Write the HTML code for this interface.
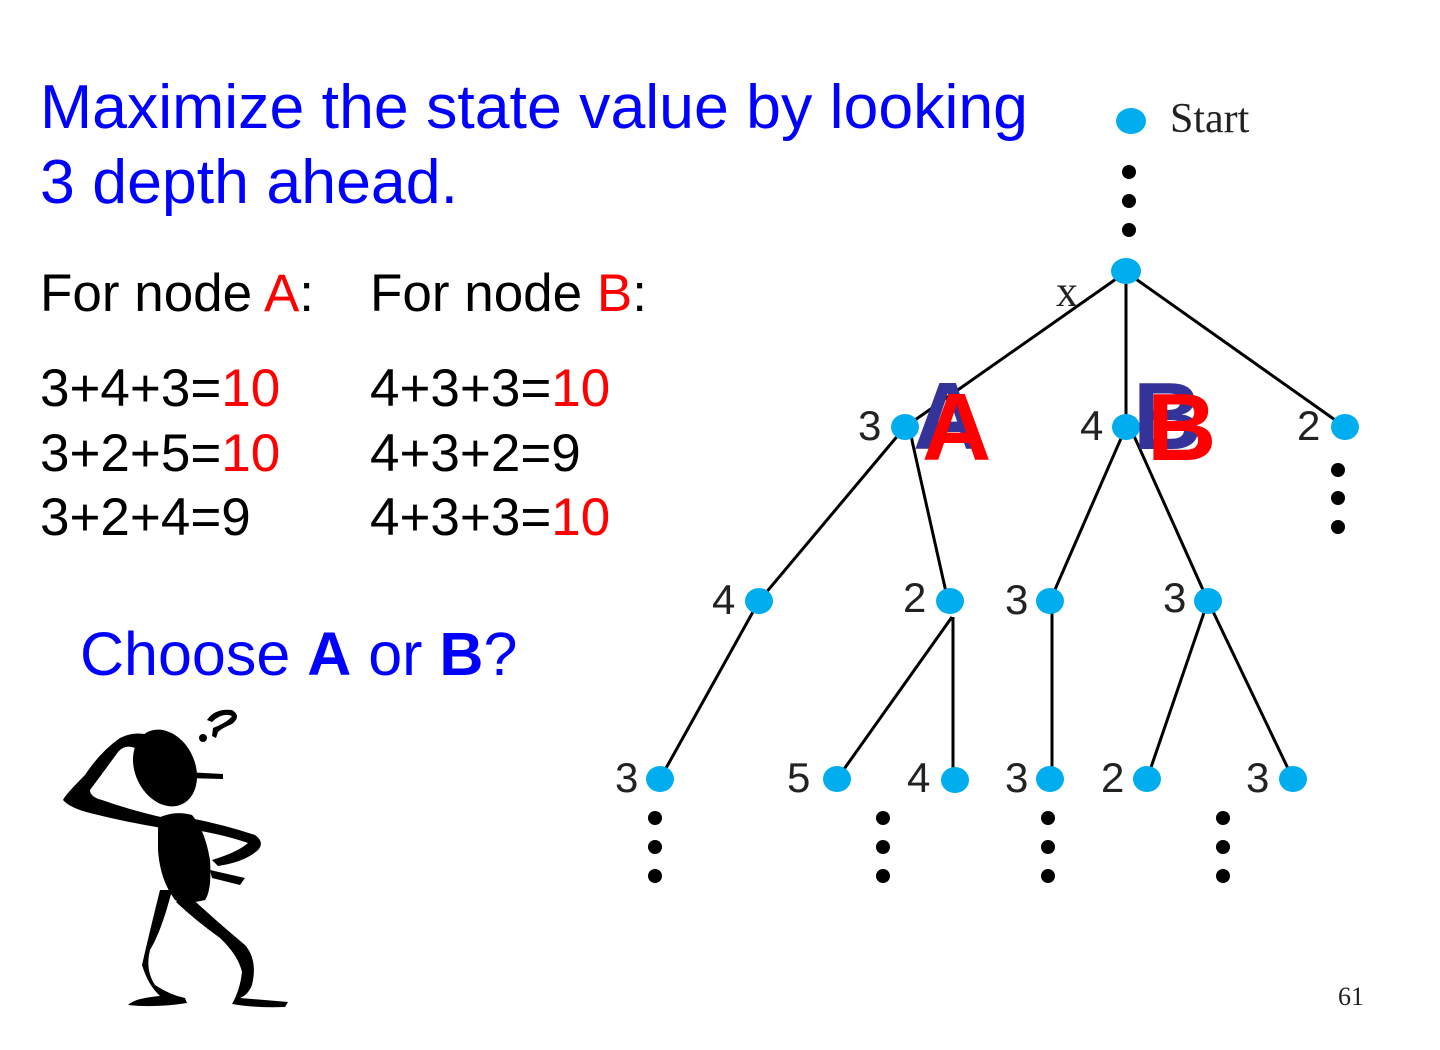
<!DOCTYPE html>
<html><head><meta charset="utf-8"><style>
html,body{margin:0;padding:0;background:#fff;}
svg{display:block;}
</style></head><body>
<svg width="1440" height="1050" viewBox="0 0 1440 1050" xmlns="http://www.w3.org/2000/svg">
<g font-family="Liberation Sans, sans-serif">
<text x="40" y="128" font-size="62" fill="#0000FF" textLength="988" lengthAdjust="spacingAndGlyphs">Maximize the state value by looking</text>
<text x="40" y="203" font-size="62" fill="#0000FF" textLength="418" lengthAdjust="spacingAndGlyphs">3 depth ahead.</text>
<text x="40" y="311" font-size="53" fill="#000">For node <tspan fill="#FF0000">A</tspan>:</text>
<text x="370" y="311" font-size="53" fill="#000">For node <tspan fill="#FF0000">B</tspan>:</text>
<g font-size="53" fill="#000">
<text x="40" y="406">3+4+3=<tspan fill="#FF0000">10</tspan></text>
<text x="40" y="471">3+2+5=<tspan fill="#FF0000">10</tspan></text>
<text x="40" y="535">3+2+4=9</text>
<text x="370" y="406">4+3+3=<tspan fill="#FF0000">10</tspan></text>
<text x="370" y="471">4+3+2=9</text>
<text x="370" y="535">4+3+3=<tspan fill="#FF0000">10</tspan></text>
</g>
<text x="80" y="675" font-size="61" fill="#0000FF">Choose <tspan font-weight="bold">A</tspan> or <tspan font-weight="bold">B</tspan>?</text>
</g>
<g stroke="#000" stroke-width="3" fill="none">
<line x1="1126" y1="272" x2="905" y2="427"/>
<line x1="1126" y1="272" x2="1126" y2="427"/>
<line x1="1126" y1="272" x2="1345" y2="427"/>
<line x1="905" y1="427" x2="759" y2="601"/>
<polyline points="910,430 913,445 948,601"/>
<line x1="1126" y1="427" x2="1050" y2="601"/>
<line x1="1130" y1="427" x2="1208" y2="601"/>
<line x1="759" y1="601" x2="660" y2="779"/>
<line x1="952" y1="617" x2="837" y2="779"/>
<line x1="953" y1="617" x2="953" y2="779"/>
<line x1="1052" y1="601" x2="1052" y2="779"/>
<line x1="1208" y1="601" x2="1147" y2="779"/>
<line x1="1208" y1="601" x2="1293" y2="779"/>
</g>
<g fill="#00AEEF">
<ellipse cx="1131" cy="121" rx="15" ry="13"/>
<ellipse cx="1126" cy="271" rx="15" ry="13"/>
<ellipse cx="905" cy="427" rx="14" ry="13"/>
<ellipse cx="1126" cy="427" rx="14" ry="13"/>
<ellipse cx="1345" cy="427" rx="14" ry="13"/>
<ellipse cx="759" cy="601" rx="14" ry="13"/>
<ellipse cx="950" cy="601" rx="14" ry="13"/>
<ellipse cx="1050" cy="601" rx="14" ry="13"/>
<ellipse cx="1208" cy="601" rx="14" ry="13"/>
<ellipse cx="660" cy="779" rx="14" ry="13"/>
<ellipse cx="837" cy="779" rx="14" ry="13"/>
<ellipse cx="955" cy="780" rx="14" ry="13"/>
<ellipse cx="1050" cy="779" rx="14" ry="13"/>
<ellipse cx="1147" cy="779" rx="14" ry="13"/>
<ellipse cx="1293" cy="779" rx="14" ry="13"/>
</g>
<g fill="#000">
<circle cx="1129" cy="172" r="7"/><circle cx="1129" cy="201" r="7"/><circle cx="1129" cy="230" r="7"/>
<circle cx="1338" cy="470" r="7"/><circle cx="1338" cy="498" r="7"/><circle cx="1338" cy="527" r="7"/>
<circle cx="655" cy="818" r="7"/><circle cx="655" cy="847" r="7"/><circle cx="655" cy="876" r="7"/>
<circle cx="883" cy="818" r="7"/><circle cx="883" cy="847" r="7"/><circle cx="883" cy="876" r="7"/>
<circle cx="1048" cy="818" r="7"/><circle cx="1048" cy="847" r="7"/><circle cx="1048" cy="876" r="7"/>
<circle cx="1223" cy="818" r="7"/><circle cx="1223" cy="847" r="7"/><circle cx="1223" cy="876" r="7"/>
</g>
<g font-family="Liberation Serif, serif" fill="#222">
<text x="1170" y="132" font-size="42">Start</text>
<text x="1056" y="306" font-size="44">x</text>
<text x="1338" y="1005" font-size="26">61</text>
</g>
<g font-family="Liberation Sans, sans-serif" font-size="42" fill="#222">
<text x="858" y="440">3</text>
<text x="1080" y="440">4</text>
<text x="1297" y="440">2</text>
<text x="712" y="614">4</text>
<text x="903" y="612">2</text>
<text x="1005" y="614">3</text>
<text x="1163" y="612">3</text>
<text x="615" y="792">3</text>
<text x="787" y="792">5</text>
<text x="907" y="792">4</text>
<text x="1005" y="792">3</text>
<text x="1101" y="792">2</text>
<text x="1246" y="792">3</text>
</g>
<g font-family="Liberation Sans, sans-serif" font-weight="bold" font-size="96">
<text x="913" y="449" fill="#333399">A</text>
<text x="922" y="460" fill="#FF0000">A</text>
<text x="1133" y="449" fill="#333399">B</text>
<text x="1147" y="460" fill="#FF0000">B</text>
</g>
<g fill="#000">
<path d="M207,720 Q215,708 232,710 Q242,716 232,724 Q222,728 218,732 L216,738 L212,736 L213,728 Q228,722 232,716 Q222,712 212,722 Z"/>
<circle cx="203" cy="738" r="4"/>
<ellipse cx="165" cy="768" rx="30" ry="40" transform="rotate(-25 165 768)"/>
<path d="M185,772 L223,774 L223,779 L185,778 Z"/>
<path d="M160,740 Q140,728 120,738 Q100,752 85,775 Q65,795 63,800 Q70,808 90,813 Q125,822 162,828 L165,818 Q130,810 102,800 Q90,797 90,790 Q105,770 118,752 Q125,744 135,748 Q150,750 158,748 Z"/>
<path d="M158,818 Q175,810 192,815 Q205,830 210,860 Q212,890 205,900 Q185,905 175,900 Q160,880 158,850 Z"/>
<path d="M190,818 Q225,825 255,835 Q265,842 258,850 Q245,862 218,866 L212,860 Q238,852 248,843 Q225,835 195,830 Z"/>
<path d="M210,870 L245,878 L240,885 L212,878 Z"/>
<path d="M172,890 Q162,930 150,950 Q145,970 155,985 Q170,995 185,998 L187,1003 Q155,1008 128,1005 Q135,998 160,996 Q148,985 142,965 Q150,930 160,890 Z"/>
<path d="M185,892 Q215,920 245,945 Q258,960 252,985 Q248,995 240,998 Q265,1000 288,1002 L285,1007 Q255,1008 232,1004 Q240,990 242,972 Q238,955 220,938 Q195,920 176,902 Z"/>
</g>
</svg>
</body></html>
